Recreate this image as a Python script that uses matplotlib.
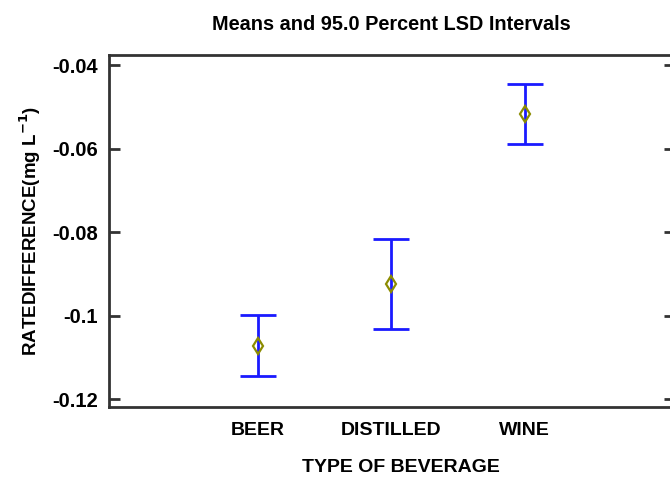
import matplotlib
matplotlib.use("Agg")
import matplotlib.pyplot as plt

categories = ["BEER", "DISTILLED", "WINE"]
means = [-0.1072, -0.0925, -0.0518]
lower = [-0.1144, -0.1032, -0.0589]
upper = [-0.0999, -0.0817, -0.0446]
yticks = [-0.12, -0.1, -0.08, -0.06, -0.04]
ytick_labels = ["-0.12", "-0.1", "-0.08", "-0.06", "-0.04"]

plt.rcParams['font.family'] = ['Liberation Sans', 'DejaVu Sans']

W, H = 670, 478
fig = plt.figure(figsize=(W/100, H/100), dpi=100)
ax = fig.add_axes([109/W, 71/H, 566/W, 352/H])

x = list(range(1, len(categories) + 1))
yerr = [[m - l for m, l in zip(means, lower)], [u - m for m, u in zip(means, upper)]]
ax.errorbar(x, means, yerr=yerr, fmt='none', ecolor='#1a1aff', elinewidth=2,
            capsize=13, capthick=2, zorder=2)
ax.plot(x, means, linestyle='none', marker='d', markersize=8,
        markerfacecolor='none', markeredgecolor='#8c8c00', markeredgewidth=1.6, zorder=3)

ax.set_xlim(-0.12, 4.13)
ax.set_ylim(-0.1219, -0.0376)
ax.set_xticks(x)
ax.set_xticklabels(categories, fontsize=14, fontweight='bold')
ax.tick_params(axis='x', length=0, pad=11)
ax.set_yticks(yticks)
ax.set_yticklabels(ytick_labels, fontsize=14.5, fontweight='bold')
ax.tick_params(axis='y', direction='in', length=8, width=2, color='#333333',
               left=True, right=True, pad=8)
for s in ax.spines.values():
    s.set_linewidth(2)
    s.set_color('#333333')

fig.text(391/W, 1 - 25/H, "Means and 95.0 Percent LSD Intervals", fontsize=14.3,
         fontweight='bold', ha='center', va='center')
fig.text(401/W, 1 - 467/H, "TYPE OF BEVERAGE", fontsize=14, fontweight='bold',
         ha='center', va='center')
fig.text(30/W, 1 - 231/H, "RATEDIFFERENCE(mg L$^{\\mathbf{-1}}$)", fontsize=13.5,
         fontweight='bold', ha='center', va='center', rotation=90)

fig.savefig("out.png", dpi=100)
